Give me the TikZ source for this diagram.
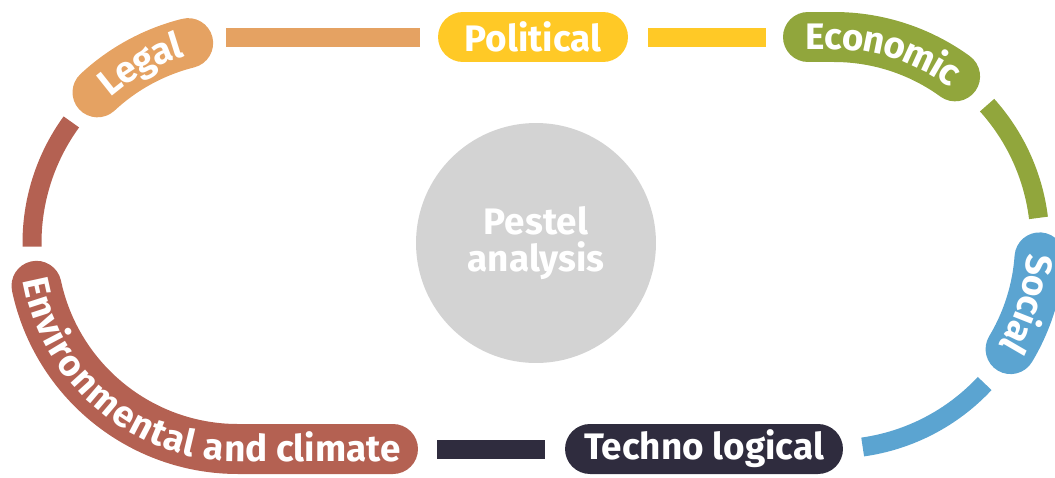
\documentclass[tikz,border=0pt]{standalone}
\usepackage{fontspec}
\setmainfont{Fira Sans}
\usetikzlibrary{decorations.text,shapes.misc}
\definecolor{legalc}{HTML}{E5A262}
\definecolor{polc}{HTML}{FFC926}
\definecolor{econc}{HTML}{91A63C}
\definecolor{socc}{HTML}{5BA4D1}
\definecolor{techc}{HTML}{2F2C3E}
\definecolor{envc}{HTML}{B46152}
\definecolor{hubc}{HTML}{D3D3D3}
\newcommand{\lbl}{\bfseries\fontsize{21}{21}\selectfont}

\begin{document}
\begin{tikzpicture}[x=0.02cm,y=0.02cm,
  bar/.style={line width=0.38cm},
  pill/.style={line width=1cm,line cap=round},
  box/.style={rounded rectangle,minimum height=1cm,inner sep=0pt,text=white,font=\lbl},
  curved/.style={postaction={decorate},decoration={text along path,text align=center,
    raise=-7pt,text={|\lbl\color{white}|#1}}}]
  \useasboundingbox (0,0) rectangle (1055,-477);
  \coordinate (L) at (238,-243);
  \coordinate (R) at (834,-243);
  \node[circle,fill=hubc,minimum size=4.8cm,inner sep=0pt,align=center,text=white,font=\lbl]
    (hub) at (536,-243) {Pestel\\analysis};
  \node[box,fill=polc,minimum width=3.8cm]  (pol)  at (533,-37)  {Political};
  \node[box,fill=techc,minimum width=5.56cm] (tech) at (704,-449) {Techno logical};
  \coordinate (legbar) at (226,-37);
  \coordinate (econbar) at (766,-37);
  \coordinate (envbar) at (437,-449);
  % curved pills
  \draw[pill,legalc,curved=Legal] ([shift={(133:206)}]L) arc[start angle=133,end angle=104,radius=206];
  \draw[pill,econc,curved=Economic] (808,-37) -- (834,-37) arc[start angle=90,end angle=54,radius=206];
  \draw[pill,socc,curved=Social] ([shift={(-4:206)}]R) arc[start angle=-4,end angle=-31,radius=206];
  \draw[pill,envc,curved=Environmental and climate] ([shift={(192:206)}]L)
    arc[start angle=192,end angle=270,radius=206] -- (393,-449);
  % links
  \draw[bar,legalc] (legbar) -- ([xshift=-0.36cm]pol.west);
  \draw[bar,polc] ([xshift=0.4cm]pol.east) -- (econbar);
  \draw[bar,techc] (envbar) -- ([xshift=-0.4cm]tech.west);
  \draw[bar,envc] ([shift={(144:206)}]L) arc[start angle=144,end angle=181,radius=206];
  \draw[bar,econc] ([shift={(42:206)}]R) arc[start angle=42,end angle=7,radius=206];
  \draw[bar,socc] ([shift={(-43:206)}]R) arc[start angle=-43,end angle=-82,radius=206];
\end{tikzpicture}
\end{document}
